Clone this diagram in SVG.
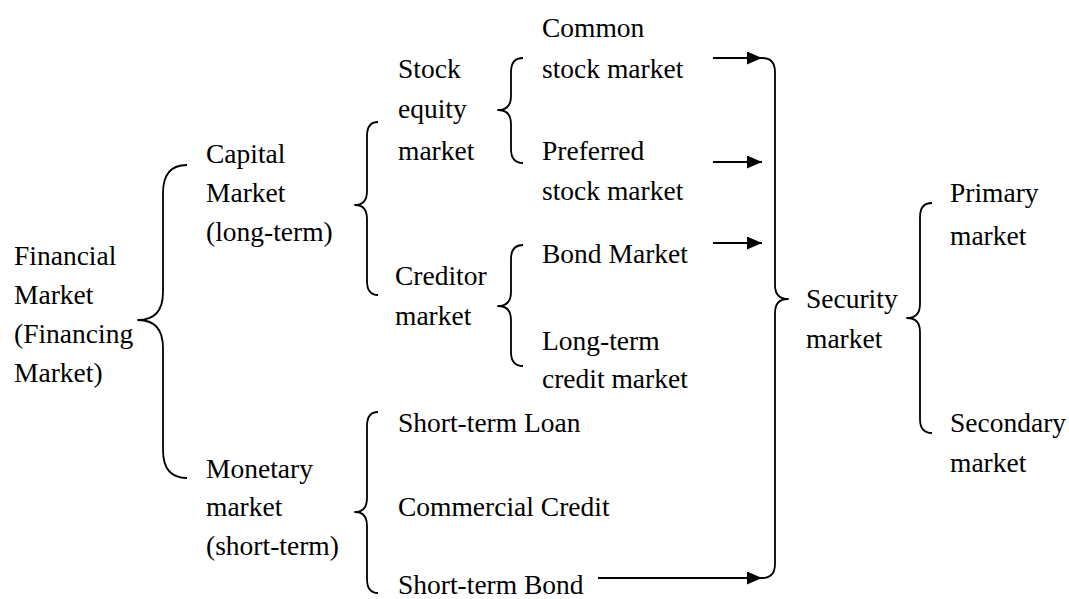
<svg xmlns="http://www.w3.org/2000/svg" width="1069" height="599" viewBox="0 0 1069 599">
  <defs>
    <style>
      .t { font-family: 'Liberation Serif', Tinos, 'Times New Roman', Times, 'DejaVu Serif', serif; font-size: 27.5px; fill: #000; }
      .br { fill: none; stroke: #000; stroke-width: 1.8; stroke-linejoin: round; }
      .ar { fill: none; stroke: #000; stroke-width: 2; }
    </style>
    <marker id="head" viewBox="0 0 15 13" refX="15" refY="6.5" markerWidth="15" markerHeight="13" markerUnits="userSpaceOnUse" orient="auto">
      <path d="M0,0 L15,6.5 L0,13 Z" fill="#000"/>
    </marker>
  </defs>
  <rect width="1069" height="599" fill="#fff"/>

  <!-- nodes -->
  <g font-family="'Liberation Serif', serif">
  <g id="financial-market">
    <text class="t" x="14" y="265">Financial</text>
    <text class="t" x="14" y="304">Market</text>
    <text class="t" x="14" y="343">(Financing</text>
    <text class="t" x="14" y="382">Market)</text>
  </g>
  <g id="capital-market">
    <text class="t" x="206" y="163">Capital</text>
    <text class="t" x="206" y="202">Market</text>
    <text class="t" x="206" y="241">(long-term)</text>
  </g>
  <g id="monetary-market">
    <text class="t" x="206" y="478">Monetary</text>
    <text class="t" x="206" y="516">market</text>
    <text class="t" x="206" y="555">(short-term)</text>
  </g>
  <g id="stock-equity-market">
    <text class="t" x="398" y="78">Stock</text>
    <text class="t" x="398" y="118">equity</text>
    <text class="t" x="398" y="160">market</text>
  </g>
  <g id="creditor-market">
    <text class="t" x="395" y="285">Creditor</text>
    <text class="t" x="395" y="325">market</text>
  </g>
  <g id="short-term-loan">
    <text class="t" x="398" y="432">Short-term Loan</text>
  </g>
  <g id="commercial-credit">
    <text class="t" x="398" y="516">Commercial Credit</text>
  </g>
  <g id="short-term-bond">
    <text class="t" x="398" y="594">Short-term Bond</text>
  </g>
  <g id="common-stock-market">
    <text class="t" x="542" y="37">Common</text>
    <text class="t" x="542" y="78">stock market</text>
  </g>
  <g id="preferred-stock-market">
    <text class="t" x="542" y="160">Preferred</text>
    <text class="t" x="542" y="200">stock market</text>
  </g>
  <g id="bond-market">
    <text class="t" x="542" y="263">Bond Market</text>
  </g>
  <g id="long-term-credit-market">
    <text class="t" x="542" y="350">Long-term</text>
    <text class="t" x="542" y="388">credit market</text>
  </g>
  <g id="security-market">
    <text class="t" x="806" y="308">Security</text>
    <text class="t" x="806" y="348">market</text>
  </g>
  <g id="primary-market">
    <text class="t" x="950" y="202">Primary</text>
    <text class="t" x="950" y="245">market</text>
  </g>
  <g id="secondary-market">
    <text class="t" x="950" y="432">Secondary</text>
    <text class="t" x="950" y="472">market</text>
  </g>
  </g>

  <!-- connectors: braces and arrows -->
  <g id="connectors">
    <!-- Financial Market -> Capital / Monetary -->
    <path class="br" d="M187,165 Q163,165 163,193 L163,292 Q163,320 138,320 Q163,320 163,348 L163,450 Q163,478 187,478"/>
    <!-- Capital Market -> Stock equity / Creditor -->
    <path class="br" d="M378,122 Q367,122 367,136 L367,191 Q367,205 355,205 Q367,205 367,219 L367,281 Q367,295 378,295"/>
    <!-- Monetary market -> short-term items -->
    <path class="br" d="M378,412 Q367,412 367,426 L367,498 Q367,512 355,512 Q367,512 367,526 L367,579 Q367,593 378,593"/>
    <!-- Stock equity market -> Common / Preferred -->
    <path class="br" d="M523,58 Q511,58 511,72 L511,96 Q511,110 498,110 Q511,110 511,124 L511,149 Q511,163 523,163"/>
    <!-- Creditor market -> Bond / Long-term credit -->
    <path class="br" d="M523,245 Q511,245 511,259 L511,292 Q511,306 498,306 Q511,306 511,320 L511,352 Q511,366 523,366"/>
    <!-- collected into Security market -->
    <path class="br" d="M762,58 Q775,58 775,72 L775,285 Q775,299 788,299 Q775,299 775,313 L775,564 Q775,578 762,578"/>
    <!-- Security market -> Primary / Secondary -->
    <path class="br" d="M932,203 Q920,203 920,217 L920,304 Q920,318 907,318 Q920,318 920,332 L920,419 Q920,433 932,433"/>

    <line class="ar" x1="713" y1="58" x2="762" y2="58" marker-end="url(#head)"/>
    <line class="ar" x1="713" y1="162" x2="762" y2="162" marker-end="url(#head)"/>
    <line class="ar" x1="713" y1="243" x2="762" y2="243" marker-end="url(#head)"/>
    <line class="ar" x1="598" y1="578" x2="762" y2="578" marker-end="url(#head)"/>
  </g>
</svg>
